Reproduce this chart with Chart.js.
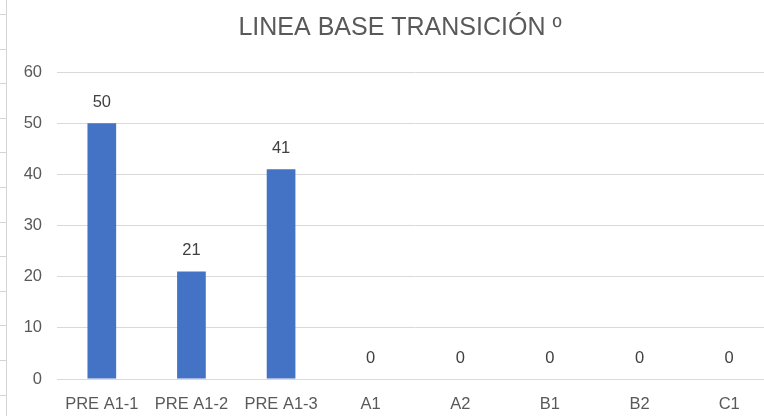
<!DOCTYPE html>
<html>
<head>
<meta charset="utf-8">
<script src="https://cdn.jsdelivr.net/npm/chart.js@4"></script>
<style>
  html, body { margin: 0; padding: 0; background: #fff; overflow: hidden; }
  #wrap { position: relative; width: 764px; height: 416px; overflow: hidden; }
  #edge { position: absolute; left: 0; top: 0; width: 6px; height: 416px;
          border-right: 1px solid #d4d4d4;
          background: repeating-linear-gradient(to bottom, transparent 0px, transparent 24px, #d4d4d4 24px, #d4d4d4 25px, transparent 25px, transparent 34.6px);
          background-position: 0 -10px; }
  #box { position: absolute; left: 0; top: 0; width: 800px; height: 416px; }
</style>
</head>
<body>
<div id="wrap">
  <div id="box"><canvas id="c" width="800" height="416"></canvas></div>
  <div id="edge"></div>
</div>
<script>
const categories = ["PRE A1-1", "PRE A1-2", "PRE A1-3", "A1", "A2", "B1", "B2", "C1"];
const values = [50, 21, 41, 0, 0, 0, 0, 0];
const yTicks = [0, 10, 20, 30, 40, 50, 60];
const title = "LINEA BASE TRANSICIÓN º";

const FONT = "'Liberation Sans', Arial, sans-serif";

const labelPlugin = {
  id: 'valueLabels',
  afterDatasetsDraw(chart) {
    const ctx = chart.ctx;
    const meta = chart.getDatasetMeta(0);
    ctx.save();
    ctx.font = "16.5px " + FONT;
    ctx.fillStyle = "#404040";
    ctx.textAlign = "center";
    ctx.textBaseline = "middle";
    meta.data.forEach((bar, i) => {
      ctx.fillText(String(values[i]), bar.x, bar.y - 21);
    });
    // chart title, centred on the full original chart width
    ctx.font = "25px " + FONT;
    ctx.fillStyle = "#595959";
    ctx.fillText(title, chart.width / 2, 28);
    ctx.restore();
  }
};

new Chart(document.getElementById('c'), {
  type: 'bar',
  data: {
    labels: categories,
    datasets: [{
      data: values,
      backgroundColor: '#4472C4',
      borderWidth: 0,
      barPercentage: 0.32,
      categoryPercentage: 1.0
    }]
  },
  options: {
    responsive: false,
    animation: false,
    devicePixelRatio: 1,
    layout: { padding: { left: 0, right: 26, top: 72, bottom: 0 } },
    plugins: {
      legend: { display: false },
      tooltip: { enabled: false },
      title: { display: false }
    },
    scales: {
      x: {
        grid: { display: false, drawTicks: false },
        border: { display: true, color: '#d9d9d9', width: 1 },
        ticks: { color: '#595959', font: { family: FONT, size: 16.5 }, padding: 16, maxRotation: 0, autoSkip: false },
        afterFit(scale) { scale.height = 37; }
      },
      y: {
        min: 0, max: 60,
        afterBuildTicks(scale) { scale.ticks = yTicks.map(v => ({ value: v })); },
        grid: { color: '#d9d9d9', drawTicks: false, lineWidth: 1 },
        border: { display: false },
        ticks: { color: '#595959', font: { family: FONT, size: 16.5 }, padding: 15 },
        afterFit(scale) { scale.width = 57; }
      }
    }
  },
  plugins: [labelPlugin]
});
</script>
</body>
</html>
